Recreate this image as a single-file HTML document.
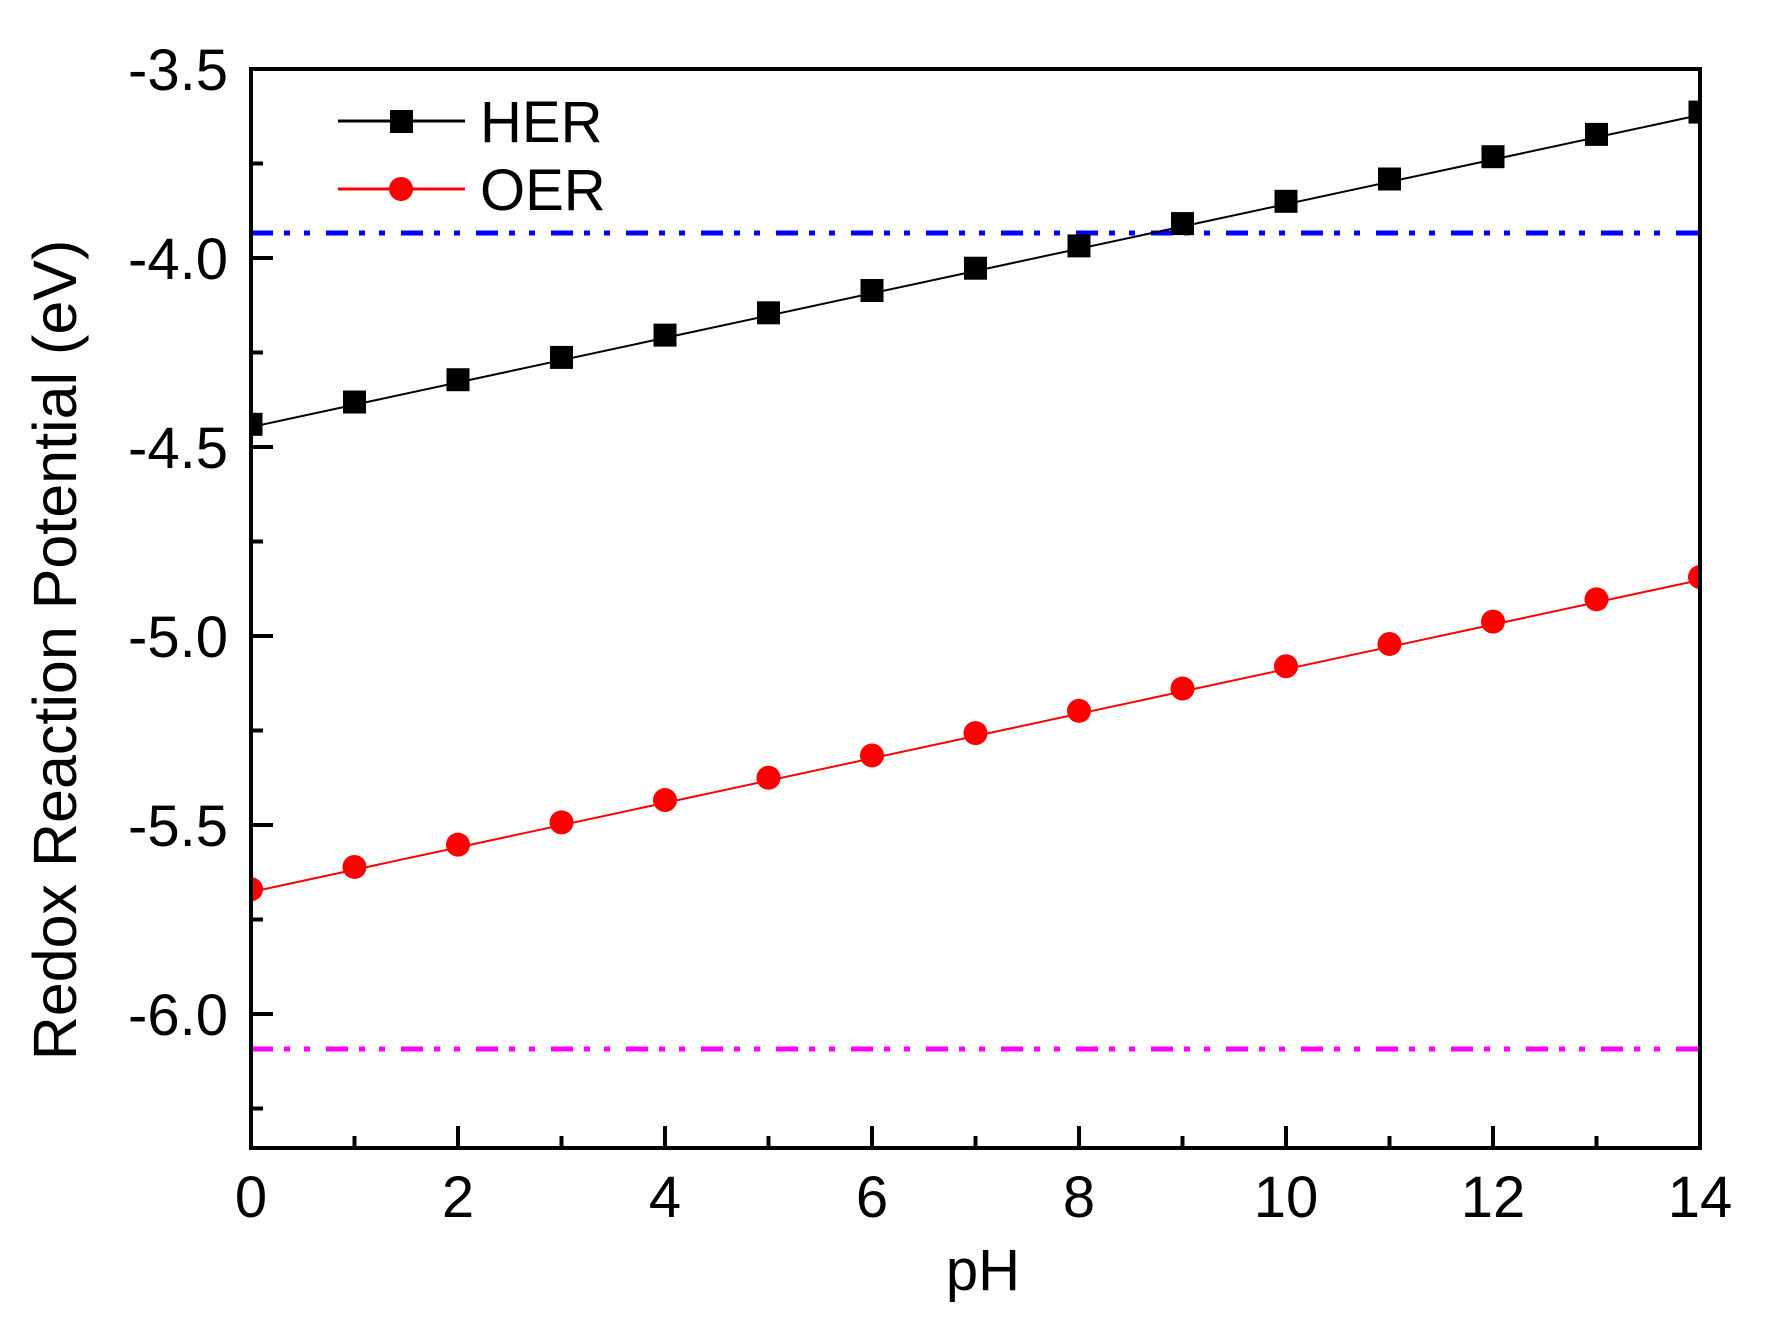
<!DOCTYPE html>
<html><head><meta charset="utf-8"><style>html,body{margin:0;padding:0;background:#fff}svg{display:block}</style></head>
<body>
<svg width="1765" height="1323" viewBox="0 0 1765 1323" xmlns="http://www.w3.org/2000/svg" font-family="Liberation Sans, Arial, sans-serif">
<defs><clipPath id="c"><rect x="251" y="69" width="1449" height="1079"/></clipPath></defs>
<g clip-path="url(#c)">
<line x1="251" y1="233" x2="1700" y2="233" stroke="#0000ff" stroke-width="5" stroke-dasharray="22 11 6 14 6 16"/>
<line x1="251" y1="1049" x2="1700" y2="1049" stroke="#ff00ff" stroke-width="5" stroke-dasharray="22 11 6 14 6 16"/>
<line x1="251" y1="427" x2="1700" y2="115" stroke="#000" stroke-width="2"/>
<line x1="251" y1="892" x2="1700" y2="580" stroke="#f00" stroke-width="2"/>
<g fill="#000" id="sq"></g>
<g id="circ" fill="#f00"></g>
</g>
<g stroke="#000" stroke-width="4" fill="none">
<rect x="251" y="69" width="1449" height="1079"/>
</g>
<g stroke="#000" stroke-width="4" id="ticks"></g>
<g font-size="58" fill="#000" text-anchor="end" id="ylab"></g>
<g font-size="58" fill="#000" text-anchor="middle" id="xlab"></g>
<text x="983" y="1290" font-size="58" text-anchor="middle">pH</text>
<text transform="translate(76,650) rotate(-90)" font-size="61" text-anchor="middle">Redox Reaction Potential (eV)</text>
<line x1="338" y1="121" x2="465" y2="121" stroke="#000" stroke-width="3"/>
<rect x="390" y="110" width="23" height="23" fill="#000"/>
<text x="480" y="142" font-size="58">HER</text>
<line x1="338" y1="189" x2="465" y2="189" stroke="#f00" stroke-width="3"/>
<circle cx="401" cy="189" r="12" fill="#f00"/>
<text x="480" y="210" font-size="58">OER</text>
<script>
var ns="http://www.w3.org/2000/svg";
function el(p,t,a,txt){var e=document.createElementNS(ns,t);for(var k in a)e.setAttribute(k,a[k]);if(txt)e.textContent=txt;document.getElementById(p).appendChild(e);}
function X(p){return 251+p*103.5;}
function Y(v){return 258+(-4-v)*378;}
for(var i=0;i<=14;i++){
 el("sq","rect",{x:X(i)-11.5,y:Y(-4.44+0.059*i)-11.5,width:23,height:23});
 el("circ","circle",{cx:X(i),cy:Y(-5.67+0.059*i),r:12});
 var L=(i%2==0)?22:12;
 el("ticks","line",{x1:X(i),y1:1148,x2:X(i),y2:1148-L});
 if(i%2==0)el("xlab","text",{x:X(i),y:1217},""+i);
}
for(var j=0;j<=11;j++){
 var v=-3.5-j*0.25;var y=Y(v);if(y>1146)break;
 var L=(j%2==0)?22:12;
 el("ticks","line",{x1:251,y1:y,x2:251+L,y2:y});
 if(j%2==0)el("ylab","text",{x:228,y:y+21},v.toFixed(1));
}
</script>
</svg>
</body></html>
